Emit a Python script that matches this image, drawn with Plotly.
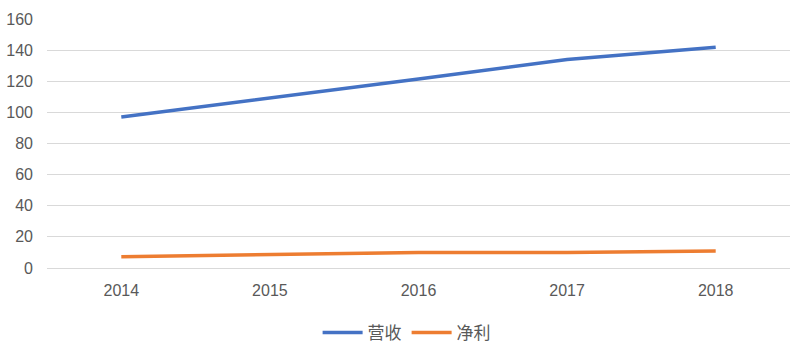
import plotly.graph_objects as go

years = ["2014", "2015", "2016", "2017", "2018"]
revenue = [97, 109, 121.5, 134, 141.8]
profit = [7.2, 8.7, 10, 10, 11]

font_family = "Noto Sans CJK SC, Liberation Sans, Arial, sans-serif"
grey = "#595959"

fig = go.Figure()
fig.add_trace(go.Scatter(x=years, y=revenue, mode="lines", name="营收",
                         line=dict(color="#4472C4", width=3.5)))
fig.add_trace(go.Scatter(x=years, y=profit, mode="lines", name="净利",
                         line=dict(color="#ED7D31", width=3.5)))

fig.update_layout(
    width=794, height=354,
    margin=dict(l=47, r=4, t=19, b=85),
    paper_bgcolor="white", plot_bgcolor="white",
    font=dict(family=font_family, color=grey, size=16),
    showlegend=True,
    legend=dict(orientation="h", x=0.484, xanchor="center", y=-0.256, yanchor="middle",
                font=dict(size=17, color=grey), itemwidth=40, tracegroupgap=0),
    xaxis=dict(type="category", range=[-0.5, 4.5], showgrid=False, showline=False,
               ticks="", tickfont=dict(family="Liberation Sans, Arial", size=16, color=grey),
               ticklabelstandoff=11),
    yaxis=dict(range=[0, 160], dtick=20, showgrid=True, gridcolor="#D9D9D9", gridwidth=1.3,
               zeroline=True, zerolinecolor="#D9D9D9", zerolinewidth=1.3,
               showline=False, ticks="", tickfont=dict(family="Liberation Sans, Arial", size=16, color=grey),
               ticklabelstandoff=13),
)

fig.write_html("out.html")
